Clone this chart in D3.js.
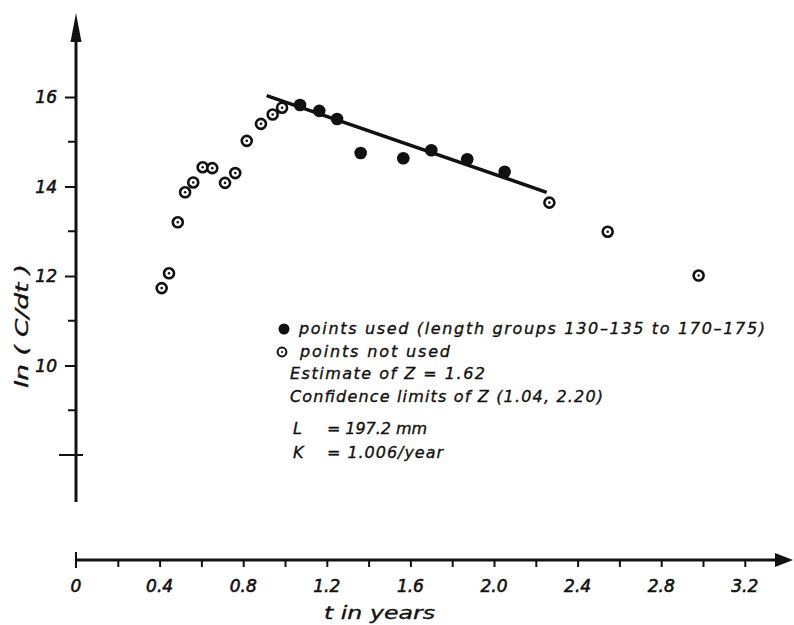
<!DOCTYPE html>
<html lang="en">
<head>
    <meta charset="UTF-8">
    <script src="https://d3js.org/d3.v7.min.js"></script>
    <style>
        body { margin: 0; background: #fff; }
        text { font-family: "DejaVu Sans", sans-serif; font-style: italic; fill: #111; stroke: #111; stroke-width: 0.35px; }
        .tick-label { stroke-width: 0.6px; }
    </style>
</head>
<body>
    <svg width="794" height="625"></svg>
    <script>
        // points not used (open circles)
        var openT = [0.41, 0.445, 0.487, 0.522, 0.561, 0.606, 0.652, 0.713, 0.762, 0.817, 0.885, 0.941, 0.986, 2.265, 2.544, 2.979];
        var openV = [11.73, 12.06, 13.20, 13.87, 14.09, 14.43, 14.41, 14.08, 14.30, 15.02, 15.40, 15.61, 15.76, 13.64, 12.99, 12.01];
        // points used (filled)
        var usedT = [1.072, 1.164, 1.249, 1.362, 1.566, 1.700, 1.872, 2.051];
        var usedV = [15.82, 15.69, 15.51, 14.75, 14.63, 14.81, 14.61, 14.33];
        // fitted line ends
        var fitT = [0.912, 2.252];
        var fitV = [16.03, 13.87];

        var xLabelTicks = [0, 0.4, 0.8, 1.2, 1.6, 2.0, 2.4, 2.8, 3.2];
        var xLabels = ["0", "0.4", "0.8", "1.2", "1.6", "2.0", "2.4", "2.8", "3.2"];
        var xMinorTicks = [0.2, 0.6, 1.0, 1.4, 1.8, 2.2, 2.6, 3.0];
        var yLabelTicks = [10, 12, 14, 16];
        var yMinorTicks = [9, 11, 13, 15];
        var yCrossTick = [8];

        var legendLines = [
            "points used (length groups 130\u2013135 to 170\u2013175)",
            "points not used",
            "Estimate of Z = 1.62",
            "Confidence limits of Z (1.04, 2.20)"
        ];

        var svg = d3.select("svg");
        var x = d3.scaleLinear().domain([0, 3.2]).range([76, 744.8]);
        var y = d3.scaleLinear().domain([8, 16]).range([455, 97]);
        var ink = "#111";

        // y axis line + arrow
        svg.append("line")
            .attr("x1", x(0)).attr("x2", x(0))
            .attr("y1", y(6.95)).attr("y2", y(17.6))
            .attr("stroke", ink).attr("stroke-width", 3);
        svg.append("path")
            .attr("d", "M" + x(0) + "," + 13 + " L" + (x(0) - 5.5) + "," + 42 + " L" + (x(0) + 5.5) + "," + 42 + "Z")
            .attr("fill", ink);

        // x axis line + arrow
        var xAxisY = 560;
        svg.append("line")
            .attr("x1", x(0)).attr("x2", x(3.35))
            .attr("y1", xAxisY).attr("y2", xAxisY)
            .attr("stroke", ink).attr("stroke-width", 3);
        svg.append("path")
            .attr("d", "M793," + xAxisY + " L775," + (xAxisY - 7) + " L775," + (xAxisY + 7) + "Z")
            .attr("fill", ink);
        svg.append("line")
            .attr("x1", x(0)).attr("x2", x(0))
            .attr("y1", xAxisY - 8).attr("y2", xAxisY + 8)
            .attr("stroke", ink).attr("stroke-width", 2);

        // x ticks
        var gx = svg.append("g").attr("transform", "translate(0," + xAxisY + ")");
        gx.call(d3.axisBottom(x).tickValues(xLabelTicks.slice(1).concat(xMinorTicks)).tickSize(7).tickFormat(""))
            .call(function(g) { g.select(".domain").remove(); })
            .selectAll("line").attr("stroke", ink).attr("stroke-width", 2);
        gx.selectAll(".xlab")
            .data(xLabelTicks)
            .enter()
            .append("text")
            .attr("class", "tick-label")
            .attr("x", function(d) { return x(d); })
            .attr("y", 32)
            .attr("text-anchor", "middle")
            .attr("font-size", "17px")
            .text(function(d, i) { return xLabels[i]; });

        // y ticks
        var gy = svg.append("g").attr("transform", "translate(" + x(0) + ",0)");
        gy.call(d3.axisLeft(y).tickValues(yLabelTicks).tickSize(11).tickFormat(""))
            .call(function(g) { g.select(".domain").remove(); })
            .selectAll("line").attr("stroke", ink).attr("stroke-width", 2);
        gy.selectAll(".minor")
            .data(yMinorTicks)
            .enter()
            .append("line")
            .attr("x1", -8).attr("x2", 0)
            .attr("y1", function(d) { return y(d); })
            .attr("y2", function(d) { return y(d); })
            .attr("stroke", ink).attr("stroke-width", 2);
        gy.selectAll(".cross")
            .data(yCrossTick)
            .enter()
            .append("line")
            .attr("x1", -17).attr("x2", 7)
            .attr("y1", function(d) { return y(d); })
            .attr("y2", function(d) { return y(d); })
            .attr("stroke", ink).attr("stroke-width", 2);
        gy.selectAll(".ylab")
            .data(yLabelTicks)
            .enter()
            .append("text")
            .attr("class", "tick-label")
            .attr("x", -19)
            .attr("y", function(d) { return y(d) + 6; })
            .attr("text-anchor", "end")
            .attr("font-size", "17px")
            .text(function(d) { return d; });

        // axis titles
        svg.append("text")
            .attr("transform", "translate(28,326) rotate(-90)")
            .attr("text-anchor", "middle")
            .attr("font-size", "17px")
            .attr("textLength", 124)
            .attr("lengthAdjust", "spacingAndGlyphs")
            .text("ln ( C/dt )");
        svg.append("text")
            .attr("x", 324).attr("y", 619)
            .attr("font-size", "18px")
            .attr("textLength", 111)
            .attr("lengthAdjust", "spacingAndGlyphs")
            .text("t in years");

        // fitted line
        svg.append("line")
            .attr("x1", x(fitT[0])).attr("y1", y(fitV[0]))
            .attr("x2", x(fitT[1])).attr("y2", y(fitV[1]))
            .attr("stroke", ink).attr("stroke-width", 3.5);

        // open points
        var openData = openT.map(function(t, i) { return { t: t, v: openV[i] }; });
        var og = svg.selectAll(".open")
            .data(openData)
            .enter()
            .append("g")
            .attr("transform", function(d) { return "translate(" + x(d.t) + "," + y(d.v) + ")"; });
        og.append("circle").attr("r", 5).attr("fill", "#fff").attr("stroke", ink).attr("stroke-width", 2.6);
        og.append("circle").attr("r", 1.3).attr("fill", ink);

        // used points
        var usedData = usedT.map(function(t, i) { return { t: t, v: usedV[i] }; });
        svg.selectAll(".used")
            .data(usedData)
            .enter()
            .append("circle")
            .attr("cx", function(d) { return x(d.t); })
            .attr("cy", function(d) { return y(d.v); })
            .attr("r", 6.3)
            .attr("fill", ink);

        // legend
        svg.append("circle").attr("cx", 284).attr("cy", 329).attr("r", 5.5).attr("fill", ink);
        svg.append("circle").attr("cx", 282).attr("cy", 352).attr("r", 4.4).attr("fill", "none").attr("stroke", ink).attr("stroke-width", 2);
        svg.append("circle").attr("cx", 282).attr("cy", 352).attr("r", 1.1).attr("fill", ink);

        var legX = [299, 300, 290, 290];
        var legY = [334, 357, 379, 402];
        var legW = [466, 150, 195, 313];
        legendLines.forEach(function(s, i) {
            svg.append("text")
                .attr("x", legX[i]).attr("y", legY[i])
                .attr("font-size", "16px")
                .attr("textLength", legW[i])
                .attr("lengthAdjust", "spacing")
                .text(s);
        });

        var paramNames = ["L", "K"];
        var paramVals = ["= 197.2 mm", "= 1.006/year"];
        var paramY = [434, 458];
        var paramW = [100, 116];
        paramNames.forEach(function(p, i) {
            svg.append("text").attr("x", 293).attr("y", paramY[i]).attr("font-size", "16px").text(p);
            svg.append("text").attr("x", 327).attr("y", paramY[i]).attr("font-size", "16px")
                .attr("textLength", paramW[i]).attr("lengthAdjust", "spacing")
                .text(paramVals[i]);
        });
    </script>
</body>
</html>
